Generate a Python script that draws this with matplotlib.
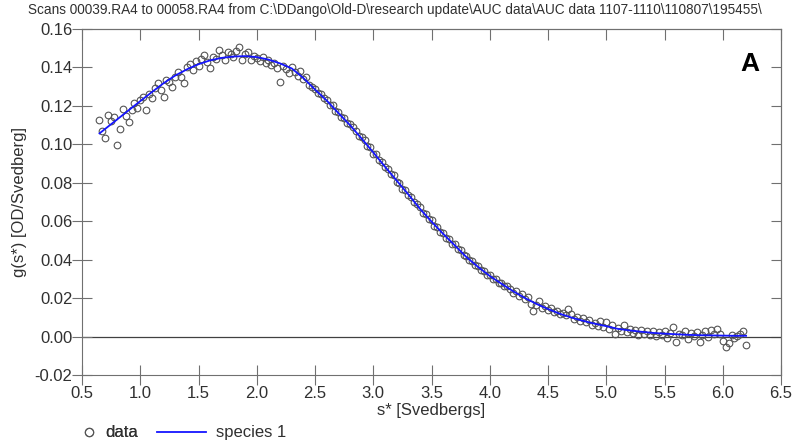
import matplotlib
matplotlib.use('Agg')
import matplotlib.pyplot as plt
from matplotlib.lines import Line2D
import numpy as np

plt.rcParams['font.family'] = ['Liberation Sans', 'DejaVu Sans']

title_txt = ('Scans 00039.RA4 to 00058.RA4 from C:\\DDango\\Old-D\\research update'
             '\\AUC data\\AUC data 1107-1110\\110807\\195455\\')

# measured g(s*) values, uniform s* grid from 0.65 to 6.20 (step 0.025)
g_data = [
    0.1128, 0.1072, 0.1034, 0.1151, 0.1122, 0.1141, 0.0999, 0.1080, 0.1186, 0.1150,
    0.1116, 0.1180, 0.1215, 0.1187, 0.1229, 0.1245, 0.1180, 0.1262, 0.1240, 0.1291,
    0.1318, 0.1284, 0.1246, 0.1335, 0.1322, 0.1299, 0.1350, 0.1375, 0.1352, 0.1320,
    0.1403, 0.1418, 0.1385, 0.1432, 0.1410, 0.1445, 0.1464, 0.1428, 0.1395, 0.1452,
    0.1442, 0.1490, 0.1465, 0.1437, 0.1478, 0.1470, 0.1452, 0.1487, 0.1508, 0.1438,
    0.1470, 0.1482, 0.1440, 0.1461, 0.1450, 0.1432, 0.1455, 0.1421, 0.1438, 0.1412,
    0.1425, 0.1398, 0.1322, 0.1408, 0.1390, 0.1372, 0.1401, 0.1376, 0.1356, 0.1380,
    0.1338, 0.1352, 0.1308, 0.1296, 0.1290, 0.1265, 0.1262, 0.1240, 0.1232, 0.1205,
    0.1203, 0.1175, 0.1170, 0.1140, 0.1138, 0.1110, 0.1105, 0.1090, 0.1068, 0.1042,
    0.1037, 0.1020, 0.0990, 0.0985, 0.0952, 0.0948, 0.0918, 0.0910, 0.0880, 0.0872,
    0.0845, 0.0838, 0.0806, 0.0800, 0.0770, 0.0765, 0.0735, 0.0728, 0.0698, 0.0690,
    0.0672, 0.0643, 0.0638, 0.0610, 0.0605, 0.0577, 0.0570, 0.0545, 0.0540, 0.0514,
    0.0510, 0.0484, 0.0480, 0.0455, 0.0449, 0.0424, 0.0418, 0.0396, 0.0392, 0.0370,
    0.0368, 0.0345, 0.0343, 0.0322, 0.0320, 0.0300, 0.0299, 0.0281, 0.0280, 0.0262,
    0.0262, 0.0248, 0.0228, 0.0235, 0.0213, 0.0219, 0.0196, 0.0205, 0.0170, 0.0131,
    0.0165, 0.0183, 0.0150, 0.0158, 0.0140, 0.0146, 0.0128, 0.0133, 0.0115, 0.0122,
    0.0110, 0.0145, 0.0118, 0.0092, 0.0102, 0.0080, 0.0098, 0.0075, 0.0085, 0.0060,
    0.0072, 0.0055, 0.0082, 0.0050, 0.0078, 0.0040, 0.0058, 0.0012, 0.0045, 0.0030,
    0.0058, 0.0025, 0.0040, 0.0018, 0.0032, 0.0008, 0.0036, 0.0015, 0.0030, 0.0010,
    0.0030, 0.0005, 0.0022, 0.0010, 0.0028, -0.0005, 0.0018, 0.0052, -0.0026, 0.0015,
    0.0008, 0.0030, -0.0012, 0.0020, 0.0002, 0.0025, -0.0030, 0.0010, 0.0028, 0.0000,
    0.0035, 0.0015, 0.0040, 0.0012, -0.0025, -0.0056, -0.0035, 0.0008, -0.0010, 0.0005,
    0.0012, 0.0030, -0.0043,
]
s_data = np.linspace(0.65, 6.20, len(g_data))

# fitted species 1 curve
fit_s = [0.65, 0.7, 0.8, 0.9, 1.0, 1.1, 1.2, 1.3, 1.4, 1.5, 1.6, 1.7, 1.8, 1.9,
         2.0, 2.1, 2.2, 2.3, 2.4, 2.5, 2.6, 2.7, 2.8, 2.9, 3.0, 3.1, 3.2, 3.3,
         3.4, 3.5, 3.6, 3.7, 3.8, 3.9, 4.0, 4.1, 4.2, 4.3, 4.4, 4.5, 4.6, 4.7,
         4.8, 4.9, 5.0, 5.1, 5.2, 5.3, 5.4, 5.5, 5.6, 5.7, 5.8, 5.9, 6.0, 6.1, 6.2]
fit_g = [0.1057, 0.1081, 0.1129, 0.1177, 0.1225, 0.1272, 0.1318, 0.1358, 0.1390,
         0.1417, 0.1437, 0.1450, 0.1457, 0.1459, 0.1454, 0.1441, 0.1421, 0.1395,
         0.1345, 0.1285, 0.1228, 0.1163, 0.1100, 0.1030, 0.0958, 0.0884, 0.0812,
         0.0740, 0.0665, 0.0598, 0.0534, 0.0474, 0.0413, 0.0362, 0.0315, 0.0275,
         0.0236, 0.0201, 0.0170, 0.0143, 0.0119, 0.0099, 0.0082, 0.0067, 0.0054,
         0.0040, 0.0032, 0.0025, 0.0019, 0.0015, 0.0012, 0.0009, 0.0007, 0.0006,
         0.0005, 0.0004, 0.0004]

x_ticks = np.arange(0.5, 6.51, 0.5)
y_ticks = np.arange(-0.02, 0.161, 0.02)

fig = plt.figure(figsize=(7.94, 4.45), dpi=100)
ax = fig.add_axes([0.1033, 0.1573, 0.8804, 0.7775])

spine_col = '#707070'
txt_col = '#303030'
blue = '#1515ff'

ax.axhline(0, color='#404040', lw=0.9, zorder=1)
ax.plot(s_data, g_data, 'o', mfc='none', mec='#555555', mew=0.8, ms=4.8, zorder=2)
ax.plot(fit_s, fit_g, color=blue, lw=1.3, zorder=3)

ax.set_xlim(0.5, 6.5)
ax.set_ylim(-0.02, 0.16)
ax.set_xticks(x_ticks)
ax.set_yticks(y_ticks)
ax.set_xticklabels(['%.1f' % v for v in x_ticks])
ax.set_yticklabels(['%.2f' % v for v in y_ticks])
for sp in ax.spines.values():
    sp.set_color(spine_col)
ax.tick_params(axis='x', direction='inout', length=14, width=0.8, color=spine_col,
               labelsize=12, labelcolor=txt_col, pad=1)
ax.tick_params(axis='y', direction='inout', length=14, width=0.8, color=spine_col,
               labelsize=12, labelcolor=txt_col, pad=0)

# top / right ticks point inward
top = ax.secondary_xaxis('top')
top.set_xticks(x_ticks)
top.tick_params(direction='in', length=8, width=0.8, color=spine_col, labeltop=False)
top.spines['top'].set_color(spine_col)
right = ax.secondary_yaxis('right')
right.set_yticks(y_ticks)
right.tick_params(direction='in', length=7, width=0.8, color=spine_col, labelright=False)
right.spines['right'].set_color(spine_col)

ax.set_xlabel('s* [Svedbergs]', fontsize=12, color=txt_col, labelpad=1)
ax.set_ylabel('g(s*) [OD/Svedberg]', fontsize=12, color=txt_col, labelpad=5)

fig.text(0.497, 0.978, title_txt, ha='center', va='center', fontsize=9.8,
         color=txt_col, family=['Liberation Sans Narrow', 'Liberation Sans'])
ax.text(0.955, 0.9, 'A', transform=ax.transAxes, ha='center', va='center',
        fontsize=19, fontweight='bold', color='black')

h_data = Line2D([], [], ls='none', marker='o', mfc='none', mec='#555555', mew=0.8, ms=6)
h_fit = Line2D([], [], color=blue, lw=1.3)
leg1 = fig.legend([h_data], ['data'], loc='center left', bbox_to_anchor=(0.101, 0.027),
                  frameon=False, fontsize=12, handlelength=1.0, handletextpad=0.5,
                  borderaxespad=0, borderpad=0)
fig.add_artist(leg1)
fig.legend([h_fit], ['species 1'], loc='center left', bbox_to_anchor=(0.198, 0.027),
           frameon=False, fontsize=12, handlelength=2.9, handletextpad=0.6,
           borderaxespad=0, borderpad=0)
for leg in fig.legends:
    for t in leg.get_texts():
        t.set_color(txt_col)

fig.savefig('out.png', dpi=100)
